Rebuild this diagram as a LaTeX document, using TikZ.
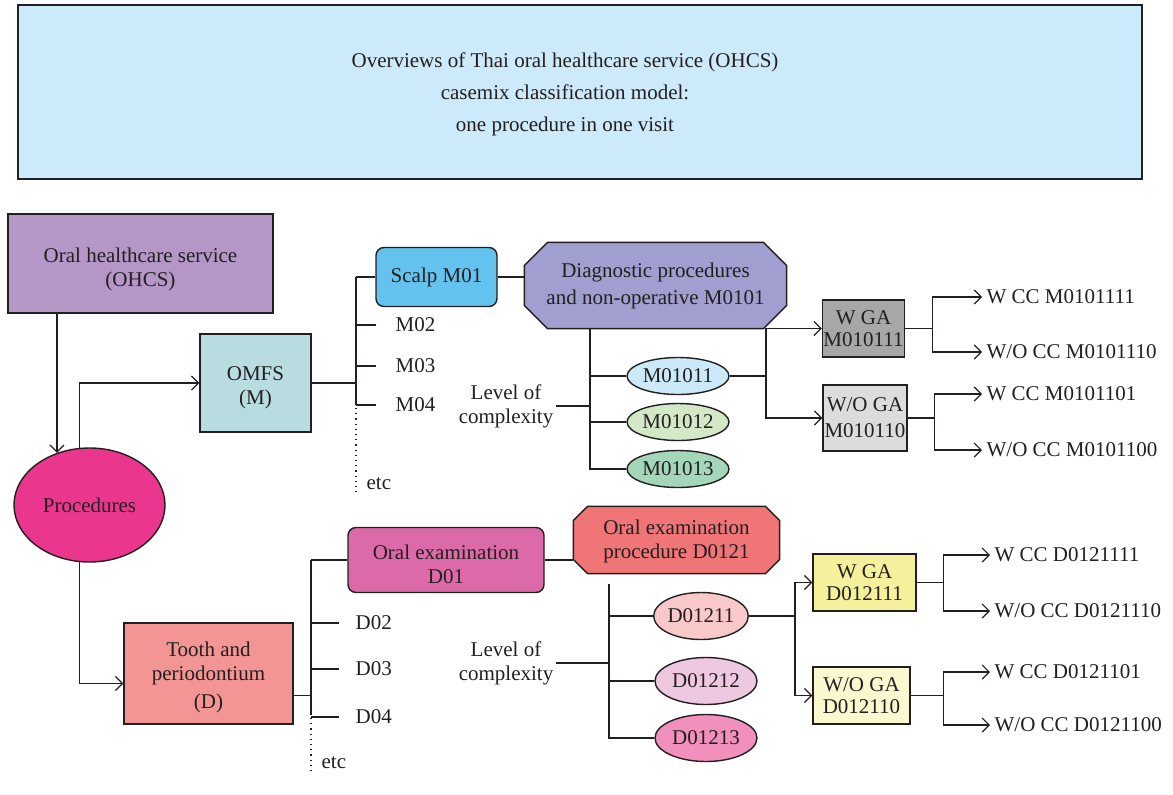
\documentclass[tikz,border=0pt]{standalone}
\usepackage{fontspec}
\setmainfont{Liberation Serif}
\usepackage{tikz}
\usetikzlibrary{positioning, arrows.meta, shapes.geometric, calc, backgrounds}
\usepackage{xcolor}
\definecolor{txt}{HTML}{231F20}
\definecolor{bannerc}{HTML}{CCEAF9}
\definecolor{ohcsc}{HTML}{B597C7}
\definecolor{procc}{HTML}{EB368E}
\definecolor{omfsc}{HTML}{B8DCE0}
\definecolor{scalpc}{HTML}{63C3EE}
\definecolor{diagc}{HTML}{A09FD0}
\definecolor{mlc1}{HTML}{CCE9F9}
\definecolor{mlc2}{HTML}{D2E8C6}
\definecolor{mlc3}{HTML}{A4D6B9}
\definecolor{wgamc}{HTML}{A7A7A7}
\definecolor{wogamc}{HTML}{DCDCDC}
\definecolor{toothc}{HTML}{F39594}
\definecolor{oralc}{HTML}{DD6AA8}
\definecolor{octdc}{HTML}{F07577}
\definecolor{dlc1}{HTML}{F9C8C9}
\definecolor{dlc2}{HTML}{EDC8E0}
\definecolor{dlc3}{HTML}{F190BD}
\definecolor{wgadc}{HTML}{F4F09B}
\definecolor{wogadc}{HTML}{FBF8D0}

% chamfered outline behind a named node: node, chamfer, fill
\newcommand{\chamferbox}[3]{%
  \begin{scope}[on background layer]
    \draw[line width=0.7pt, draw=txt, fill=#3]
      ($(#1.north west)+(#2,0pt)$) -- ($(#1.north east)+(-#2,0pt)$)
      -- ($(#1.north east)+(0pt,-#2)$) -- ($(#1.south east)+(0pt,#2)$)
      -- ($(#1.south east)+(-#2,0pt)$) -- ($(#1.south west)+(#2,0pt)$)
      -- ($(#1.south west)+(0pt,#2)$) -- ($(#1.north west)+(0pt,-#2)$) -- cycle;
  \end{scope}}

\begin{document}
\begin{tikzpicture}[x=0.5pt, y=-0.5pt, >={Straight Barb[length=3.5pt,width=7pt]}, line width=0.6pt, draw=txt,
  every node/.style={font=\fontsize{10.5}{12}\selectfont, text=txt},
  box/.style={draw=txt, line width=0.7pt, align=center, inner sep=1pt},
  rbox/.style={box, rounded corners=4pt},
  octa/.style={align=center, inner sep=1pt},
  ell/.style={draw=txt, line width=0.7pt, ellipse, inner sep=0pt, minimum height=#1},
  ell/.default=18.5pt,
  gabox/.style={box, inner sep=0.3pt, font=\fontsize{10.5}{11}\selectfont},
  lbl/.style={inner sep=1pt},
  leaf/.style={anchor=west, inner sep=2pt}]

\useasboundingbox (0,0) rectangle (1173,794);

% ---------- title banner ----------
\node[box, fill=bannerc, minimum width=562pt, minimum height=87pt] (banner) at (580,92) {};
\node[align=center, font=\fontsize{10.5}{16}\selectfont] (title) at (565,94)
  {Overviews of Thai oral healthcare service (OHCS)\\casemix classification model:\\one procedure in one visit};

% ---------- left column ----------
\node[box, fill=ohcsc, minimum width=132.5pt, minimum height=49.5pt] (ohcs) at (140.5,263.5) {\rule{0pt}{13pt}Oral healthcare service\\(OHCS)};
\node[ell=57pt, fill=procc, minimum width=75.5pt] (proc) at (89.5,505) {Procedures};
\node[box, fill=omfsc, minimum width=55.5pt, minimum height=49pt] (omfs) at (255.5,383) {\rule{0pt}{12pt}OMFS\\(M)};
\node[box, fill=toothc, minimum width=84.5pt, minimum height=50.5pt] (tooth) at (208.5,673.5) {\rule{0pt}{11.5pt}Tooth and\\periodontium\\[2pt](D)};

\draw[->] (ohcs.south -| proc.122) -- (proc.122);
\draw[->] (proc.100) |- (omfs.west);
\draw[->] (proc.260) |- ([yshift=-5pt]tooth.west);

% ---------- OMFS branch ----------
\coordinate (mtop) at (356,277);
\coordinate (mbot) at (356,405);
\node[rbox, fill=scalpc, minimum width=60.5pt, minimum height=29.5pt] (scalp) at (436.5,277) {Scalp M01};
\draw (omfs.east) -- (omfs.east -| mtop);
\draw (mtop) -- (mbot);
\draw (mtop) -- (scalp.west);
\foreach \n/\y in {02/325,03/366,04/405}{
  \node[lbl, anchor=west] (mb\n) at (393,\y) {M\n};
  \draw (mtop |- mb\n.west) -- ++(20,0);
}
\node[lbl, anchor=west] (metc) at (364,484) {etc};
\draw[dotted] ([yshift=-1.5pt]mbot) -- (mbot |- metc.south);

\node[octa, minimum width=130.5pt, minimum height=42.5pt] (diag) at (655.5,285.5)
  {Diagnostic procedures\\[1.5pt]and non-operative M0101};
\chamferbox{diag}{11.5pt}{diagc}
\draw (scalp.east) -- (scalp.east -| diag.west);

% ---------- M level of complexity ----------
\coordinate (mc) at (590,469);
\node[ell, fill=mlc1, minimum width=51pt] (m1) at (678,376) {M01011};
\node[ell, fill=mlc2, minimum width=51pt] (m2) at (678,422) {M01012};
\node[ell, fill=mlc3, minimum width=51pt] (m3) at (678,469) {M01013};
\draw (diag.south -| mc) -- (mc) -- (m3.west);
\draw (mc |- m1.west) -- (m1.west);
\draw (mc |- m2.west) -- (m2.west);
\node[lbl, align=center] (mlev) at (506,406) {Level of\\complexity};
\draw (mlev.east) -- (mc |- mlev.east);

% ---------- M anaesthesia and CC ----------
\coordinate (mfk) at (766,376);
\node[gabox, fill=wgamc, minimum width=41pt, minimum height=28.5pt] (wgam) at (863.5,328.5) {W GA\\M010111};
\node[gabox, fill=wogamc, minimum width=42pt, minimum height=33pt] (wogam) at (865,418) {W/O GA\\[2pt]M010110};
\draw (m1.east) -- (mfk);
\draw[->] (mfk) |- (wgam.west);
\draw[->] (mfk) |- (wogam.west);

\node[leaf] (lm1) at (982,297) {W CC M0101111};
\node[leaf] (lm2) at (982,352) {W/O CC M0101110};
\node[leaf] (lm3) at (982,394) {W CC M0101101};
\node[leaf] (lm4) at (982,450) {W/O CC M0101100};
\draw (wgam.east) -- ++(27,0) coordinate (k1);
\draw[->] (k1) |- (lm1.west);
\draw[->] (k1) |- (lm2.west);
\draw (wogam.east) -- ++(27,0) coordinate (k2);
\draw[->] (k2) |- (lm3.west);
\draw[->] (k2) |- (lm4.west);

% ---------- tooth branch ----------
\coordinate (dtop) at (311,560);
\coordinate (dbot) at (311,715);
\node[rbox, fill=oralc, minimum width=98pt, minimum height=32.5pt] (oral) at (446,560) {\rule{0pt}{12pt}Oral examination\\D01};
\draw ([yshift=-11pt]tooth.east) -- ([yshift=-11pt]tooth.east -| dtop);
\draw (dtop) -- (dbot);
\draw (dtop) -- (oral.west);
\foreach \n/\y in {02/623,03/669,04/717}{
  \node[lbl, anchor=west] (db\n) at (353,\y) {D\n};
  \draw (dtop |- db\n.west) -- ++(28,0);
}
\node[lbl, anchor=west] (detc) at (319,763) {etc};
\draw[dotted] ([yshift=-1.5pt]dbot) -- (dbot |- detc.south);

\node[octa, minimum width=102.5pt, minimum height=33pt] (octd) at (676.5,540)
  {\rule{0pt}{9pt}Oral examination\\procedure D0121};
\chamferbox{octd}{7pt}{octdc}
\draw (oral.east) -- (oral.east -| octd.west);

% ---------- D level of complexity ----------
\coordinate (dc) at (609,738);
\node[ell=23.5pt, fill=dlc1, minimum width=46pt] (e1) at (701,616) {D01211};
\node[ell=23.5pt, fill=dlc2, minimum width=51pt] (e2) at (706,681) {D01212};
\node[ell=23.5pt, fill=dlc3, minimum width=51pt] (e3) at (706,738) {D01213};
\draw ([yshift=-5pt]octd.south -| dc) -- (dc) -- (e3.west);
\draw (dc |- e1.west) -- (e1.west);
\draw (dc |- e2.west) -- (e2.west);
\node[lbl, align=center] (dlev) at (506,663) {Level of\\complexity};
\draw (dlev.east) -- (dc |- dlev.east);

% ---------- D anaesthesia and CC ----------
\coordinate (dfk) at (795,616);
\node[gabox, fill=wgadc, minimum width=51.5pt, minimum height=28.5pt] (wgad) at (864.5,582.5) {W GA\\D012111};
\node[gabox, fill=wogadc, minimum width=48.5pt, minimum height=28.5pt] (wogad) at (861.5,695.5) {W/O GA\\D012110};
\draw (e1.east) -- (dfk);
\draw[->] (dfk) |- (wgad.west);
\draw[->] (dfk) |- (wogad.west);

\node[leaf] (ld1) at (990,555) {W CC D0121111};
\node[leaf] (ld2) at (990,611) {W/O CC D0121110};
\node[leaf] (ld3) at (990,672) {W CC D0121101};
\node[leaf] (ld4) at (990,725) {W/O CC D0121100};
\draw (wgad.east) -- ++(27,0) coordinate (k3);
\draw[->] (k3) |- (ld1.west);
\draw[->] (k3) |- (ld2.west);
\draw (wogad.east) -- ++(33,0) coordinate (k4);
\draw[->] (k4) |- (ld3.west);
\draw[->] (k4) |- (ld4.west);

\end{tikzpicture}
\end{document}
